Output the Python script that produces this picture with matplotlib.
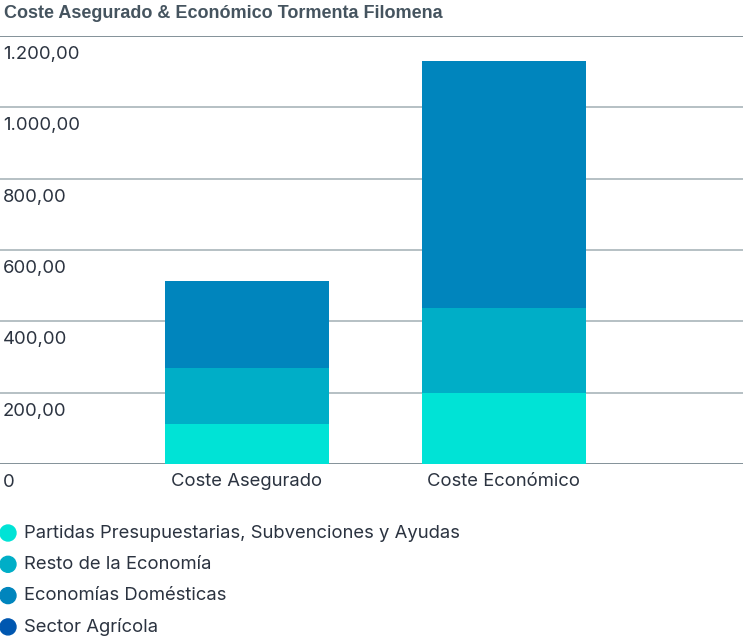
import matplotlib.pyplot as plt
from matplotlib.patches import Circle

# data
categories = ["Coste Asegurado", "Coste Económico"]
series_names = [
    "Partidas Presupuestarias, Subvenciones y Ayudas",
    "Resto de la Economía",
    "Economías Domésticas",
    "Sector Agrícola",
]
partidas = [112, 199]
resto = [157, 238]
domesticas = [244, 693]
agricola = [0, 0]
colors = ["#00e3d6", "#00aec7", "#0085bd", "#0057b0"]
yticks = [0, 200, 400, 600, 800, 1000, 1200]
ytick_labels = ["0", "200,00", "400,00", "600,00", "800,00", "1.000,00", "1.200,00"]

font = ["Inter", "DejaVu Sans"]
text_color = "#2b3340"

fig = plt.figure(figsize=(7.43, 6.42), dpi=100)
ax = fig.add_axes([0, 1 - 464 / 642, 1, (464 - 36) / 642])

x = [0, 1]
bottom = [0, 0]
for vals, col in zip([partidas, resto, domesticas, agricola], colors):
    ax.bar(x, vals, width=0.638, bottom=bottom, color=col, zorder=2)
    bottom = [b + v for b, v in zip(bottom, vals)]

ax.set_xlim(-0.961, 1.93)
ax.set_ylim(0, 1200)

for v, lab in zip(yticks, ytick_labels):
    lc = "#6e7f88" if v in (0, 1200) else "#a9b5ba"
    ax.axhline(v, color=lc, lw=1.2, zorder=1)
    ax.annotate(lab, (0, v), xycoords=("axes fraction", "data"),
                xytext=(3, -10), textcoords="offset pixels",
                ha="left", va="top", fontsize=13.3, color=text_color, family=font)

for xi, c in zip(x, categories):
    ax.annotate(c, (xi, 0), xycoords="data", xytext=(0, -9),
                textcoords="offset pixels", ha="center", va="top",
                fontsize=13.3, color=text_color, family=font)

for s in ax.spines.values():
    s.set_visible(False)
ax.set_xticks([])
ax.set_yticks([])

fig.text(4 / 743, 1 - 14 / 642, "Coste Asegurado & Económico Tormenta Filomena",
         ha="left", va="center", fontsize=13, fontweight="bold",
         color="#45545f", family=["Liberation Sans", "DejaVu Sans"])

# legend with circles cut at the left edge
for i, (name, col) in enumerate(zip(series_names, colors)):
    yc = 533 + i * 31.3
    fig.patches.append(Circle((8, 642 - yc), 8, transform=None, color=col))
    fig.text(24 / 743, 1 - yc / 642, name, ha="left", va="center",
             fontsize=13.3, color=text_color, family=font)

plt.savefig("out.png", dpi=100)
plt.close()
